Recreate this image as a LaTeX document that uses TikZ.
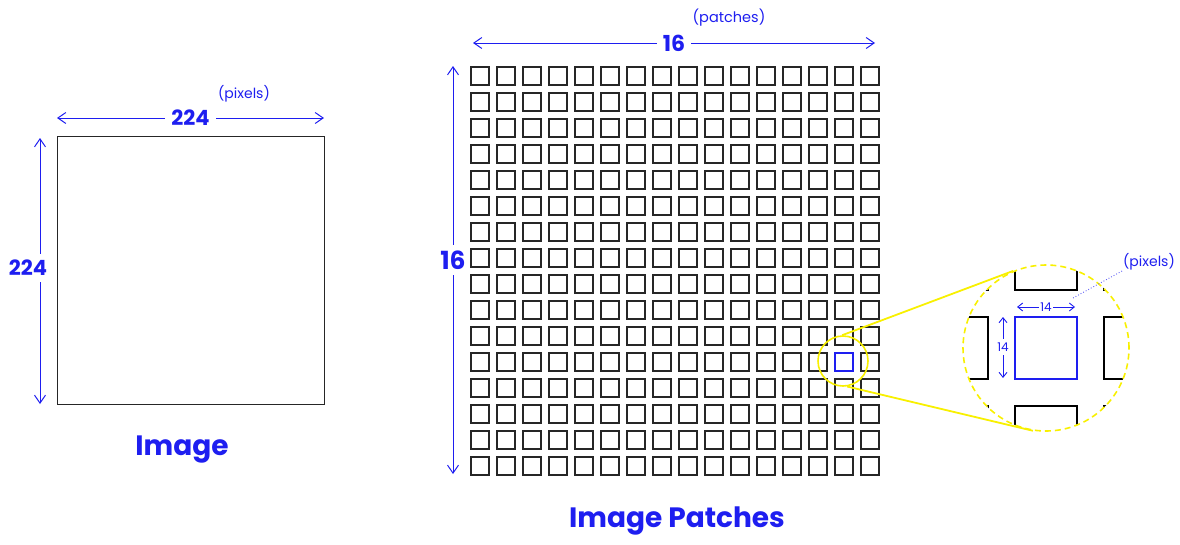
\documentclass[tikz,border=0pt]{standalone}
\usepackage{fontspec}
\setmainfont{Poppins}
\usetikzlibrary{arrows.meta}
\definecolor{ink}{RGB}{30,30,240}
\definecolor{hl}{RGB}{248,240,0}
\begin{document}
\begin{tikzpicture}[x=1pt,y=-1pt,
  dim/.style={draw=ink,line width=1pt,{Straight Barb[length=8pt,width=11pt]}-{Straight Barb[length=8pt,width=11pt]}},
  sdim/.style={draw=ink,line width=0.9pt,{Straight Barb[length=5pt,width=8pt]}-{Straight Barb[length=5pt,width=8pt]}},
  gap/.style={fill=white,inner sep=2pt,text=ink},
  patch/.style={draw=black!85,line width=1.9pt,minimum size=18pt,inner sep=0pt},
  bigpatch/.style={draw=black,line width=1.5pt,minimum size=62pt,inner sep=0pt},
  lbl/.style={text=ink,inner sep=0pt},
]
\useasboundingbox (0,0) rectangle (1180,544);

% ---- left image ----
\node[draw=black!85,line width=1.2pt,minimum width=267pt,minimum height=268pt,inner sep=0pt] (img) at (191,270.5) {};
\coordinate (ta) at (57,118);
\coordinate (tb) at (324,118);
\draw[dim] (ta) -- node[gap,font=\fontsize{21}{21}\selectfont\bfseries,inner xsep=6pt] (t224) {224} (tb);
\node[lbl,font=\fontsize{14}{14}\selectfont] (pix1) at (244,94) {(pixels)};
\coordinate (la) at (40,138);
\coordinate (lb) at (40,404);
\draw[dim] (la) -- (lb);
\node[gap,font=\fontsize{21}{21}\selectfont\bfseries,inner ysep=6pt,inner xsep=1pt] (l224) at (28,268) {224};
\node[lbl,font=\fontsize{28}{28}\selectfont\bfseries] (imgl) at (182,450) {Image};

% ---- patch grid ----
\foreach \i in {0,...,15}{
  \foreach \j in {0,...,15}{
    \ifnum\i=14 \ifnum\j=11 \def\pc{ink}\else\def\pc{black!85}\fi\else\def\pc{black!85}\fi
    \node[patch,draw=\pc] (p-\i-\j) at ({480+26*\i},{76+26*\j}) {};
  }
}
\coordinate (ga) at (473,43);
\coordinate (gb) at (875,43);
\draw[dim] (ga) -- node[gap,font=\fontsize{22}{22}\selectfont\bfseries,inner xsep=6pt] (g16) {16} (gb);
\node[lbl,font=\fontsize{14.5}{14.5}\selectfont] (patl) at (729,18) {(patches)};
\coordinate (gc) at (453,66);
\coordinate (gd) at (453,474);
\draw[dim] (gc) -- (gd);
\node[gap,font=\fontsize{25}{25}\selectfont\bfseries,inner ysep=6pt,inner xsep=1pt] (v16) at (453,260) {16};
\node[lbl,font=\fontsize{28}{28}\selectfont\bfseries] (patchl) at (677,521) {Image Patches};

% ---- magnifier ----
\coordinate (mc) at (1046,348);
\begin{scope}
  \clip (mc) circle[radius=83pt];
  \foreach \i in {-1,0,1}{
    \foreach \j in {-1,0,1}{
      \node[bigpatch] (m\i\j) at ({1046+89.2*\i},{348+89.2*\j}) {};
    }
  }
\end{scope}
\node[bigpatch,draw=ink,line width=1.2pt,fill=white] (zp) at (mc) {};
\node[circle,draw=hl,line width=1.6pt,minimum size=50pt,inner sep=0pt] (sc) at (843,361) {};
\node[circle,draw=hl,line width=1.6pt,dashed,dash pattern=on 6pt off 4pt,minimum size=166pt,inner sep=0pt] (bc) at (mc) {};
\draw[hl,line width=1.8pt] (sc.92) -- (bc.113);
\draw[hl,line width=1.8pt] (sc.279) -- (bc.261);

\coordinate (za) at (1017,307);
\coordinate (zb) at (1075,307);
\draw[sdim] (za) -- node[gap,font=\fontsize{12}{12}\selectfont,inner sep=1.5pt] (z14a) {14} (zb);
\coordinate (zc) at (1003,317);
\coordinate (zd) at (1003,378);
\draw[sdim] (zc) -- (zd);
\node[gap,font=\fontsize{12}{12}\selectfont,inner xsep=0.5pt,inner ysep=4pt] (z14b) at (1003,347) {14};
\node[lbl,font=\fontsize{14}{14}\selectfont] (pix2) at (1149,262) {(pixels)};
\coordinate (ds) at (1073,298);
\draw[ink!70,line width=0.9pt,dotted] (ds) -- (pix2.south west);
\end{tikzpicture}
\end{document}
